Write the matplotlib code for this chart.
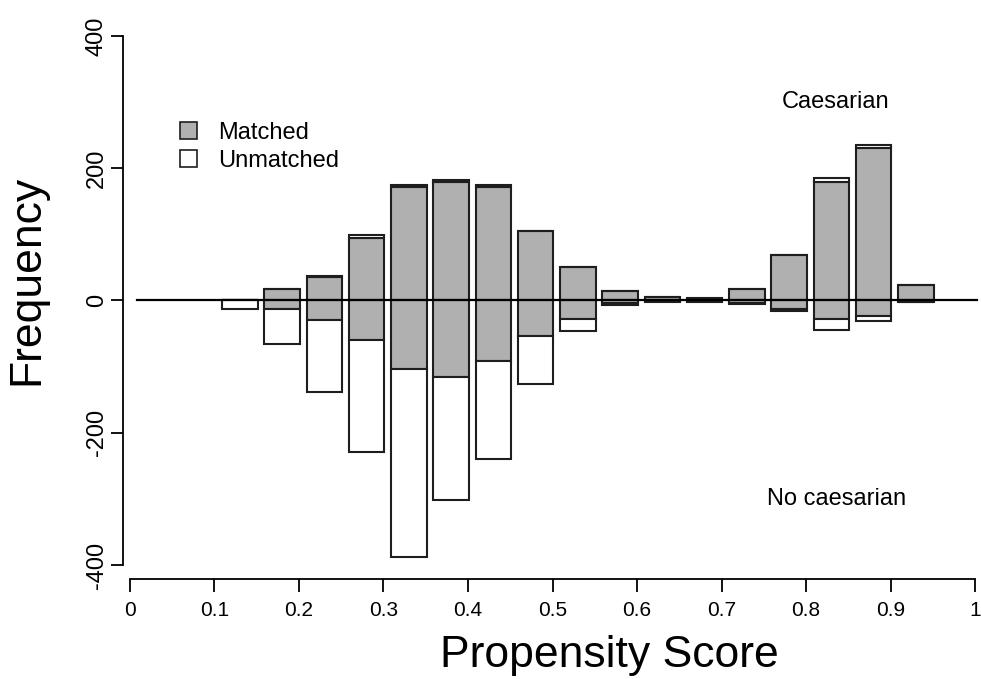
import matplotlib.pyplot as plt
from matplotlib.patches import Patch

plt.rcParams['font.family'] = ['Liberation Sans', 'DejaVu Sans']

# lower edge of each propensity score bin (width 0.05)
bins = [0.10, 0.15, 0.20, 0.25, 0.30, 0.35, 0.40, 0.45, 0.50,
        0.55, 0.60, 0.65, 0.70, 0.75, 0.80, 0.85, 0.90]

# Caesarian (treated) - drawn upwards
treat_matched = [0, 17, 35, 95, 171, 179, 171, 105, 50, 14, 6, 2, 17, 69, 179, 231, 24]
treat_unmatched = [0, 0, 2, 4, 4, 3, 3, 0, 0, 0, 0, 1, 0, 0, 6, 4, 0]

# No caesarian (control) - drawn downwards
ctrl_matched = [0, 13, 30, 60, 104, 116, 92, 54, 28, 4, 1, 1, 4, 13, 28, 24, 2]
ctrl_unmatched = [13, 53, 108, 169, 284, 186, 147, 72, 18, 3, 1, 1, 2, 3, 17, 7, 1]

gray = '#b0b0b0'
edge = '#1e1e1e'
lw = 1.5
xs = [b + 0.009 for b in bins]
w = 0.042

fig = plt.figure(figsize=(9.81, 6.79), dpi=100)
ax = fig.add_axes([126 / 981, 1 - 572 / 679, (979 - 126) / 981, (572 - 30) / 679])

ax.bar(xs, treat_matched, width=w, align='edge', color=gray, edgecolor=edge, linewidth=lw)
ax.bar(xs, treat_unmatched, width=w, align='edge', bottom=treat_matched,
       color='white', edgecolor=edge, linewidth=lw)
ax.bar(xs, [-v for v in ctrl_matched], width=w, align='edge', color=gray,
       edgecolor=edge, linewidth=lw)
ax.bar(xs, [-v for v in ctrl_unmatched], width=w, align='edge',
       bottom=[-v for v in ctrl_matched], color='white', edgecolor=edge, linewidth=lw)

ax.axhline(0, xmin=0.013, xmax=0.998, color='black', linewidth=1.6)

ax.set_xlim(-0.0047, 1.0047)
ax.set_ylim(-410.6, 409)

ax.spines['top'].set_visible(False)
ax.spines['right'].set_visible(False)
ax.spines['left'].set_position(('outward', 2))
ax.spines['bottom'].set_position(('outward', 5))
ax.spines['left'].set_bounds(-400, 400)
ax.spines['bottom'].set_bounds(0, 1)
for s in ['left', 'bottom']:
    ax.spines[s].set_linewidth(1.3)

ax.set_xticks([i / 10 for i in range(11)])
ax.set_xticklabels(['0', '0.1', '0.2', '0.3', '0.4', '0.5', '0.6', '0.7', '0.8', '0.9', '1'])
ax.set_yticks([-400, -200, 0, 200, 400])
ax.set_yticklabels(['-400', '-200', '0', '200', '400'], rotation=90, va='center')
ax.tick_params(axis='both', length=9, width=1.3, colors='black')
ax.tick_params(axis='x', pad=7, labelsize=15)
ax.tick_params(axis='y', pad=2, labelsize=17)

ax.set_xlabel('Propensity Score', fontsize=32, va='baseline')
ax.xaxis.set_label_coords(0.567, -0.175)
ax.set_ylabel('Frequency', fontsize=32, va='center')
ax.yaxis.set_label_coords(-0.116, 0.539)

ax.text(0.835, 300, 'Caesarian', ha='center', va='center', fontsize=17)
ax.text(0.836, -300, 'No caesarian', ha='center', va='center', fontsize=17)

handles = [Patch(facecolor=gray, edgecolor=edge, linewidth=1.2, label='Matched'),
           Patch(facecolor='white', edgecolor=edge, linewidth=1.2, label='Unmatched')]
ax.legend(handles=handles, loc='upper left', bbox_to_anchor=(0.038, 0.87), frameon=False,
          fontsize=17, handlelength=0.75, handleheight=0.75, handletextpad=0.9,
          labelspacing=0.25)

fig.savefig('out.png', dpi=100)
